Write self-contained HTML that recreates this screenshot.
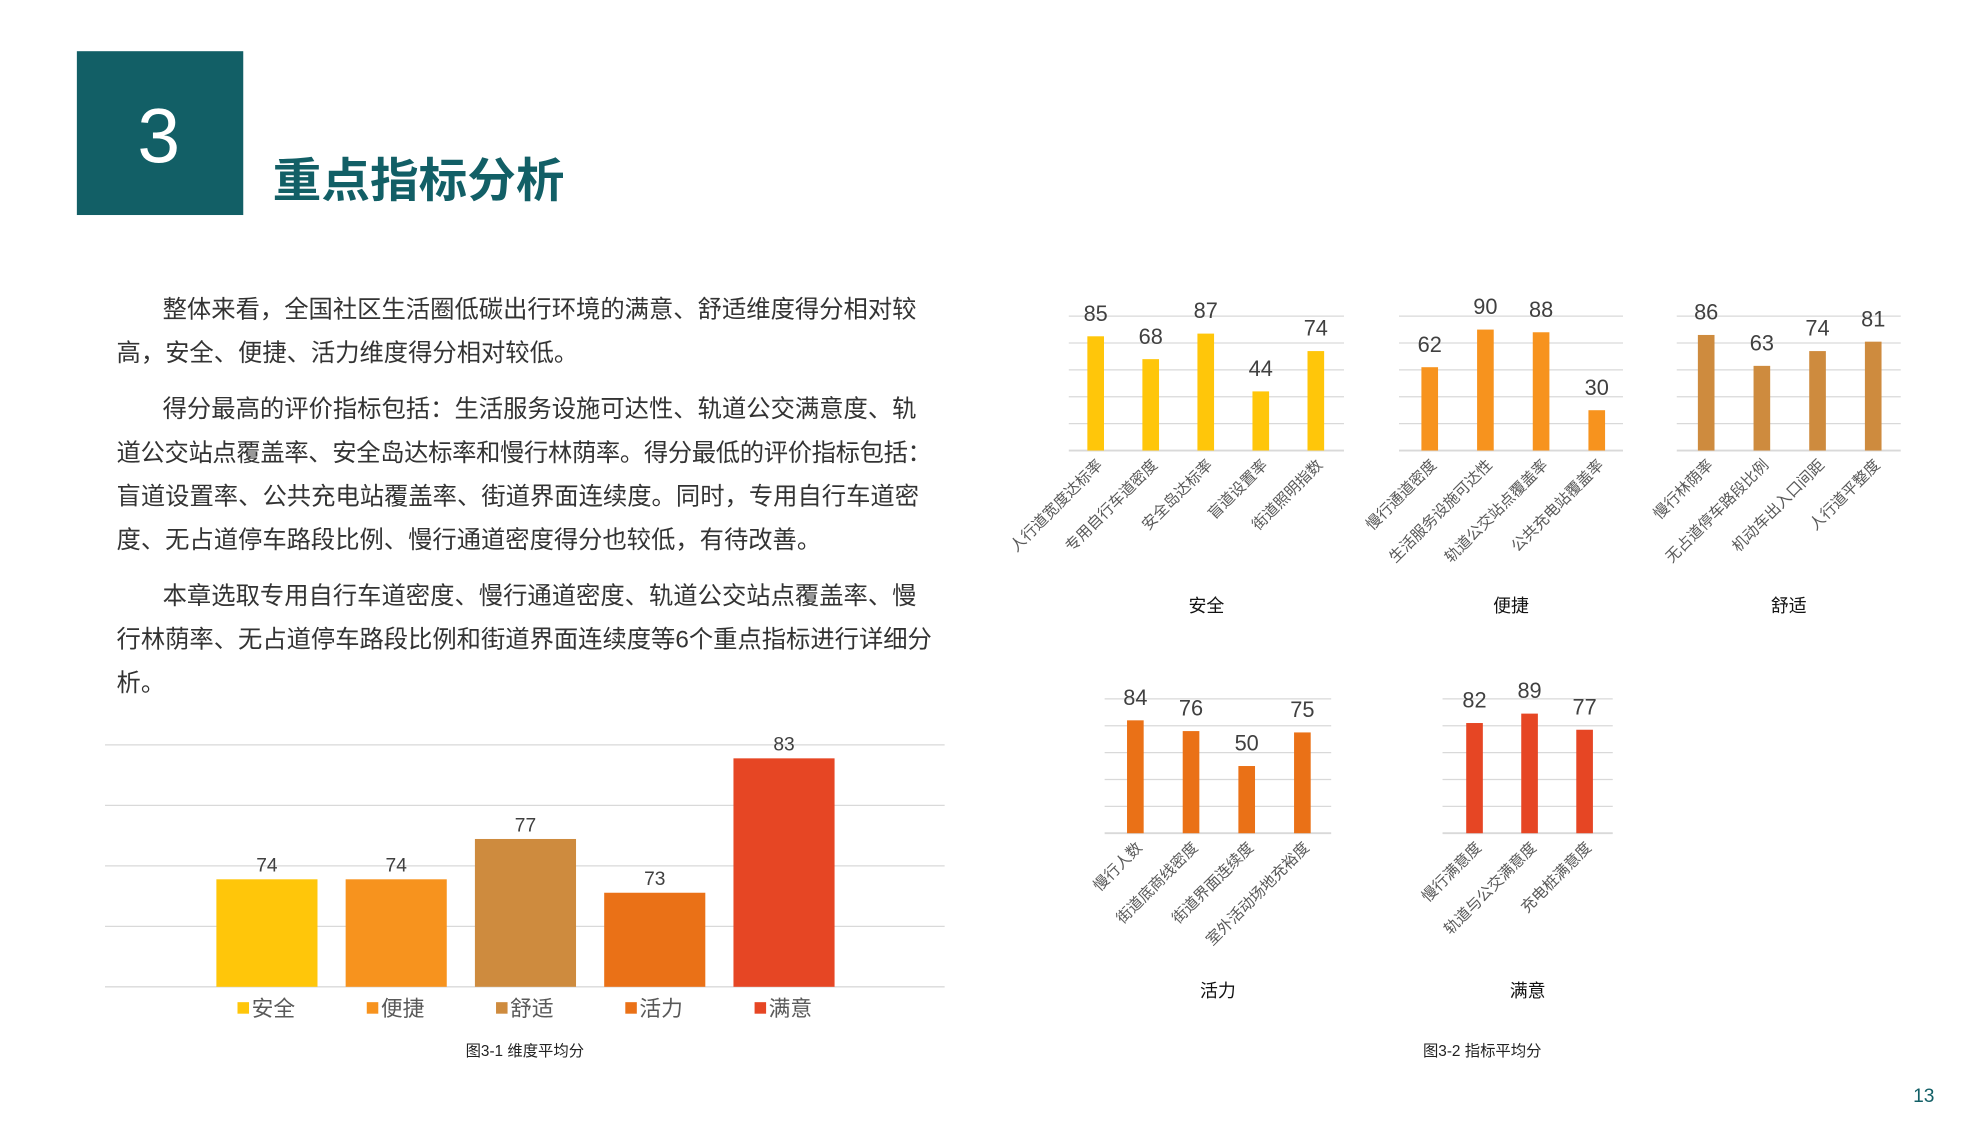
<!DOCTYPE html>
<html><head><meta charset="utf-8"><style>
html,body{margin:0;padding:0;background:#fff}
svg{display:block}
text{font-family:"Liberation Sans","Noto Sans CJK SC",sans-serif}
</style></head><body>
<svg id="page" width="1984" height="1134" viewBox="0 0 1550 886" xmlns="http://www.w3.org/2000/svg">
<rect x="60" y="40" width="130" height="128" fill="#125F66"/>
<text x="124" y="127" font-size="60" fill="#fff" text-anchor="middle">3</text>
<text x="213" y="154" font-size="37" font-weight="bold" fill="#125F66" textLength="228" lengthAdjust="spacingAndGlyphs">重点指标分析</text>
<g font-size="19" fill="#333">
<text x="127" y="248" textLength="589">整体来看，全国社区生活圈低碳出行环境的满意、舒适维度得分相对较</text>
<text x="91" y="282">高，安全、便捷、活力维度得分相对较低。</text>
<text x="127" y="326" textLength="589">得分最高的评价指标包括：生活服务设施可达性、轨道公交满意度、轨</text>
<text x="91" y="360" textLength="637">道公交站点覆盖率、安全岛达标率和慢行林荫率。得分最低的评价指标包括：</text>
<text x="91" y="394" textLength="627">盲道设置率、公共充电站覆盖率、街道界面连续度。同时，专用自行车道密</text>
<text x="91" y="428">度、无占道停车路段比例、慢行通道密度得分也较低，有待改善。</text>
<text x="127" y="472" textLength="589">本章选取专用自行车道密度、慢行通道密度、轨道公交站点覆盖率、慢</text>
<text x="91" y="506" textLength="637">行林荫率、无占道停车路段比例和街道界面连续度等6个重点指标进行详细分</text>
<text x="91" y="540">析。</text>
</g>
<g id="mainChart"></g>
<g id="smallCharts"></g>
<text x="410" y="825" font-size="12" fill="#222" text-anchor="middle">图3-1 维度平均分</text>
<text x="1158" y="825" font-size="12" fill="#222" text-anchor="middle">图3-2 指标平均分</text>
<text x="1503" y="861" font-size="15" fill="#125F66" text-anchor="middle">13</text>
</svg>
<script>
const dimCategories=["安全","便捷","舒适","活力","满意"];
const dimValues=[74,74,77,73,83];
const dimColors=["#FFC60A","#F7931E","#CE8B3E","#EA7117","#E64624"];
const safetyLabels=["人行道宽度达标率","专用自行车道密度","安全岛达标率","盲道设置率","街道照明指数"];
const safetyValues=[85,68,87,44,74];
const convLabels=["慢行通道密度","生活服务设施可达性","轨道公交站点覆盖率","公共充电站覆盖率"];
const convValues=[62,90,88,30];
const comfortLabels=["慢行林荫率","无占道停车路段比例","机动车出入口间距","人行道平整度"];
const comfortValues=[86,63,74,81];
const vitalityLabels=["慢行人数","街道底商线密度","街道界面连续度","室外活动场地充裕度"];
const vitalityValues=[84,76,50,75];
const satisLabels=["慢行满意度","轨道与公交满意度","充电桩满意度"];
const satisValues=[82,89,77];
const NS="http://www.w3.org/2000/svg";
function mk(tag,attrs,parent,txt){const e=document.createElementNS(NS,tag);for(const k in attrs)e.setAttribute(k,attrs[k]);if(txt!==undefined)e.textContent=txt;parent.appendChild(e);return e;}
// main chart
(function(){
 const g=document.getElementById('mainChart');
 const x0=82,x1=738,yTop=582,yBot=771,vmin=66,vmax=84;
 const y=v=>yBot-(v-vmin)/(vmax-vmin)*(yBot-yTop);
 for(let i=0;i<=4;i++){const gy=yBot-i*(yBot-yTop)/4;
  const l=mk('line',{x1:x0,x2:x1,y1:gy,y2:gy,stroke:'#d9d9d9','stroke-width':1},g);
  
  }
 const step=101,bw=79,start=208.5;
 dimValues.forEach((v,i)=>{const cx=start+i*step;
  const r=mk('rect',{x:cx-bw/2,y:y(v),width:bw,height:yBot-y(v),fill:dimColors[i]},g);
  
  
  const t=mk('text',{x:cx,y:y(v)-6,'font-size':15,fill:'#404040','text-anchor':'middle'},g,String(v));
  
  
  const s=mk('rect',{x:cx-23,y:783,width:9,height:9,fill:dimColors[i]},g);
  
  
  const lt=mk('text',{x:cx-12,y:794,'font-size':17,fill:'#595959'},g,dimCategories[i]);
  
  
 });
})();
// small charts
(function(){
 const g=document.getElementById('smallCharts');
 const charts=[
  {title:"安全",labels:safetyLabels,values:safetyValues,color:"#FFC60A",x0:835,x1:1050,yTop:247,yBot:352,start:856,step:43,ty:478},
  {title:"便捷",labels:convLabels,values:convValues,color:"#F7931E",x0:1093,x1:1268,yTop:247,yBot:352,start:1117,step:43.5,ty:478},
  {title:"舒适",labels:comfortLabels,values:comfortValues,color:"#CE8B3E",x0:1310,x1:1485,yTop:247,yBot:352,start:1333,step:43.5,ty:478},
  {title:"活力",labels:vitalityLabels,values:vitalityValues,color:"#EA7117",x0:863,x1:1040,yTop:546,yBot:651,start:887,step:43.5,ty:779},
  {title:"满意",labels:satisLabels,values:satisValues,color:"#E64624",x0:1127,x1:1260,yTop:546,yBot:651,start:1152,step:43,ty:779}
 ];
 charts.forEach(c=>{
  const cg=mk('g',{},g);
  
  
  const y=v=>c.yBot-v/100*(c.yBot-c.yTop);
  for(let i=0;i<=5;i++){const gy=c.yBot-i*(c.yBot-c.yTop)/5;
   const l=mk('line',{x1:c.x0,x2:c.x1,y1:gy,y2:gy,stroke:'#d9d9d9','stroke-width':i===0?1.5:1},cg);
   
   }
  c.values.forEach((v,i)=>{const cx=c.start+i*c.step;
   const r=mk('rect',{x:cx-6.5,y:y(v),width:13,height:c.yBot-y(v),fill:c.color},cg);
   
   
   const t=mk('text',{x:cx,y:y(v)-12,'font-size':17,fill:'#404040','text-anchor':'middle'},cg,String(v));
   
   
   const lx=cx+6,ly=c.yBot+12;
   const lt=mk('text',{x:lx,y:ly,'font-size':12,fill:'#595959','text-anchor':'end',transform:`rotate(-45 ${lx} ${ly})`},cg,c.labels[i]);
   
   
  });
  const tt=mk('text',{x:(c.x0+c.x1)/2,y:c.ty,'font-size':14,fill:'#111','text-anchor':'middle'},cg,c.title);
  
  
 });
})();
</script>
</body></html>
